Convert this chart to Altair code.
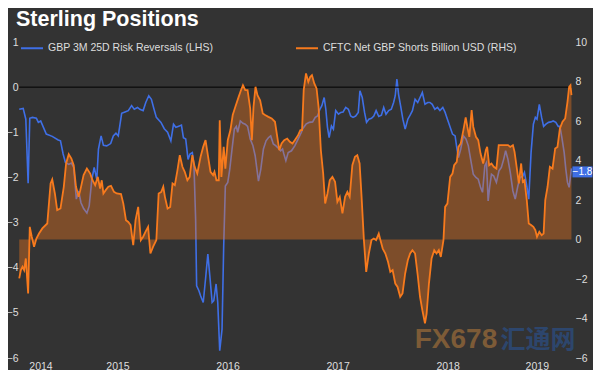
import altair as alt
import pandas as pd

# ---------------- data ----------------
RR_NAME = "GBP 3M 25D Risk Reversals (LHS)"
CFTC_NAME = "CFTC Net GBP Shorts Billion USD (RHS)"

rr_year = [2014.607, 2014.643, 2014.667, 2014.688, 2014.703, 2014.727, 2014.763, 2014.781, 2014.802, 2014.823,
           2014.853, 2014.907, 2014.961, 2014.982, 2015.006, 2015.027, 2015.057, 2015.081, 2015.102, 2015.126,
           2015.147, 2015.168, 2015.192, 2015.222, 2015.243, 2015.267, 2015.288, 2015.312, 2015.327, 2015.351,
           2015.372, 2015.402, 2015.438, 2015.462, 2015.486, 2015.507, 2015.538, 2015.568, 2015.598, 2015.628,
           2015.652, 2015.682, 2015.703, 2015.733, 2015.757, 2015.784, 2015.808, 2015.832, 2015.853, 2015.895,
           2015.925, 2015.955, 2015.985, 2016.009, 2016.030, 2016.051, 2016.081, 2016.099, 2016.120, 2016.141,
           2016.159, 2016.180, 2016.195, 2016.210, 2016.219, 2016.240, 2016.255, 2016.279, 2016.300, 2016.321,
           2016.339, 2016.360, 2016.375, 2016.396, 2016.411, 2016.429, 2016.450, 2016.465, 2016.480, 2016.502,
           2016.520, 2016.541, 2016.562, 2016.580, 2016.592, 2016.616, 2016.640, 2016.661, 2016.682, 2016.706,
           2016.730, 2016.751, 2016.781, 2016.802, 2016.826, 2016.850, 2016.871, 2016.892, 2016.916, 2016.940,
           2016.964, 2016.982, 2017.000, 2017.012, 2017.030, 2017.051, 2017.081, 2017.111, 2017.141, 2017.171,
           2017.183, 2017.213, 2017.243, 2017.273, 2017.297, 2017.318, 2017.339, 2017.357, 2017.378, 2017.393,
           2017.408, 2017.423, 2017.444, 2017.462, 2017.483, 2017.508, 2017.529, 2017.550, 2017.574, 2017.598,
           2017.619, 2017.640, 2017.664, 2017.688, 2017.703, 2017.724, 2017.745, 2017.763, 2017.784, 2017.808,
           2017.829, 2017.850, 2017.874, 2017.898, 2017.919, 2017.940, 2017.964, 2017.988, 2018.009, 2018.024,
           2018.039, 2018.054, 2018.075, 2018.093, 2018.114, 2018.138, 2018.159, 2018.180, 2018.204, 2018.228,
           2018.249, 2018.270, 2018.294, 2018.318, 2018.339, 2018.360, 2018.384, 2018.408, 2018.430, 2018.456,
           2018.477, 2018.498, 2018.523, 2018.544, 2018.568, 2018.583, 2018.598, 2018.619, 2018.643, 2018.667,
           2018.688, 2018.709, 2018.733, 2018.757, 2018.778, 2018.799, 2018.817, 2018.838, 2018.853, 2018.868,
           2018.883, 2018.898, 2018.919, 2018.943, 2018.967, 2018.988, 2019.009, 2019.027, 2019.048, 2019.069,
           2019.093, 2019.114, 2019.138, 2019.159, 2019.183, 2019.198, 2019.219, 2019.237, 2019.258, 2019.279,
           2019.297, 2019.312, 2019.333, 2019.354, 2019.372, 2019.393, 2019.417, 2019.438, 2019.459, 2019.483,
           2019.505, 2019.520, 2019.538, 2019.559, 2019.574, 2019.589, 2019.604, 2019.625]
rr_value = [-0.49, -0.47, -0.71, -2.13, -0.69, -0.67, -0.69, -0.78, -0.75, -0.87,
            -1.04, -1.09, -1.17, -1.19, -1.48, -1.67, -1.71, -1.68, -1.78, -2.48,
            -2.30, -2.56, -2.69, -2.79, -2.63, -2.04, -1.78, -2.04, -1.37, -1.08,
            -1.29, -1.30, -1.25, -1.08, -1.02, -1.08, -0.58, -0.55, -0.52, -0.41,
            -0.49, -0.45, -0.49, -0.52, -0.34, -0.19, -0.27, -0.49, -0.67, -0.78,
            -0.92, -1.00, -1.19, -0.82, -0.89, -0.87, -0.84, -1.12, -1.15, -1.60,
            -1.48, -1.45, -1.74, -2.92, -4.40, -4.51, -4.62, -4.77, -4.25, -3.70,
            -4.18, -4.77, -4.73, -4.36, -4.77, -5.84, -5.36, -3.52, -2.19, -2.11,
            -1.82, -1.37, -0.93, -0.87, -1.00, -0.75, -0.80, -0.82, -0.87, -1.15,
            -1.29, -1.52, -2.08, -1.82, -1.37, -1.19, -1.12, -1.08, -1.26, -1.30,
            -1.36, -1.41, -1.37, -1.48, -1.63, -1.45, -1.41, -1.30, -1.15, -1.00,
            -0.92, -0.82, -0.78, -0.77, -0.67, -0.64, -0.49, -0.41, -0.23, -0.49,
            -0.89, -1.12, -0.86, -0.93, -0.52, -0.60, -0.56, -0.55, -0.45, -0.49,
            -0.64, -0.67, -0.64, -0.56, -0.08, -0.23, -0.56, -0.78, -0.71, -0.69,
            -0.64, -0.52, -0.65, -0.62, -0.45, -0.60, -0.52, -0.49, -0.34, -0.19,
            0.18, -0.16, -0.45, -0.71, -0.93, -0.71, -0.62, -0.52, -0.27, -0.34,
            -0.23, -0.12, -0.38, -0.34, -0.34, -0.38, -0.49, -0.45, -0.52, -0.45,
            -0.56, -0.71, -0.89, -1.04, -1.08, -1.34, -1.56, -1.37, -1.08, -1.15,
            -1.30, -1.60, -1.93, -2.00, -2.04, -2.22, -2.33, -1.74, -1.67, -2.52,
            -2.19, -1.93, -1.97, -2.11, -1.85, -1.78, -1.60, -1.41, -1.60, -1.89,
            -2.30, -2.48, -2.19, -2.00, -1.97, -1.89, -2.19, -2.48, -1.45, -0.82,
            -0.67, -0.71, -0.38, -0.67, -0.87, -0.82, -0.78, -0.77, -0.75, -0.78,
            -0.87, -0.87, -1.12, -1.45, -1.82, -2.11, -2.22, -1.80]

cftc_year = [2014.607, 2014.622, 2014.637, 2014.652, 2014.667, 2014.688, 2014.703, 2014.721, 2014.742, 2014.763,
             2014.787, 2014.817, 2014.862, 2014.892, 2014.907, 2014.931, 2014.952, 2014.982, 2015.012, 2015.033,
             2015.057, 2015.081, 2015.102, 2015.123, 2015.147, 2015.162, 2015.192, 2015.222, 2015.252, 2015.273,
             2015.297, 2015.321, 2015.342, 2015.357, 2015.372, 2015.393, 2015.417, 2015.441, 2015.468, 2015.493,
             2015.532, 2015.553, 2015.577, 2015.598, 2015.619, 2015.643, 2015.664, 2015.688, 2015.712, 2015.733,
             2015.754, 2015.778, 2015.799, 2015.823, 2015.853, 2015.874, 2015.898, 2015.916, 2015.931, 2015.955,
             2015.979, 2016.000, 2016.021, 2016.045, 2016.066, 2016.090, 2016.111, 2016.135, 2016.156, 2016.180,
             2016.201, 2016.225, 2016.255, 2016.279, 2016.300, 2016.321, 2016.345, 2016.369, 2016.381, 2016.399,
             2016.420, 2016.429, 2016.444, 2016.465, 2016.480, 2016.502, 2016.526, 2016.547, 2016.571, 2016.601,
             2016.622, 2016.640, 2016.661, 2016.682, 2016.706, 2016.721, 2016.736, 2016.754, 2016.772, 2016.796,
             2016.820, 2016.841, 2016.871, 2016.901, 2016.931, 2016.952, 2016.970, 2016.991, 2017.015, 2017.042,
             2017.066, 2017.090, 2017.111, 2017.141, 2017.162, 2017.177, 2017.192, 2017.213, 2017.234, 2017.252,
             2017.267, 2017.288, 2017.309, 2017.327, 2017.348, 2017.369, 2017.387, 2017.408, 2017.429, 2017.453,
             2017.477, 2017.498, 2017.520, 2017.544, 2017.568, 2017.589, 2017.610, 2017.634, 2017.658, 2017.679,
             2017.700, 2017.718, 2017.739, 2017.760, 2017.784, 2017.808, 2017.829, 2017.850, 2017.874, 2017.889,
             2017.910, 2017.934, 2017.958, 2017.979, 2018.000, 2018.024, 2018.045, 2018.069, 2018.090, 2018.114,
             2018.138, 2018.159, 2018.180, 2018.204, 2018.228, 2018.249, 2018.270, 2018.294, 2018.309, 2018.330,
             2018.354, 2018.378, 2018.399, 2018.420, 2018.438, 2018.462, 2018.477, 2018.498, 2018.523, 2018.544,
             2018.559, 2018.583, 2018.598, 2018.619, 2018.643, 2018.664, 2018.679, 2018.697, 2018.718, 2018.733,
             2018.757, 2018.778, 2018.799, 2018.823, 2018.847, 2018.859, 2018.877, 2018.898, 2018.919, 2018.943,
             2018.964, 2019.003, 2019.048, 2019.069, 2019.093, 2019.108, 2019.129, 2019.147, 2019.168, 2019.183,
             2019.198, 2019.219, 2019.237, 2019.258, 2019.279, 2019.297, 2019.312, 2019.333, 2019.354, 2019.372,
             2019.387, 2019.408, 2019.429, 2019.453, 2019.477, 2019.498, 2019.520, 2019.544, 2019.568, 2019.589,
             2019.604, 2019.616, 2019.625]
cftc_value = [-1.97, -1.55, -1.38, -1.55, -0.96, -2.73, 0.64, 0.14, -0.37, 0.05,
              0.30, 0.56, 0.81, 2.84, 3.04, 2.33, 1.49, 1.57, 2.67, 3.85,
              4.32, 4.10, 3.76, 2.67, 2.16, 2.50, 3.26, 3.59, 3.34, 3.00,
              2.75, 3.17, 2.58, 3.00, 2.33, 2.50, 2.67, 2.72, 2.41, 2.33,
              2.30, 1.82, 0.98, 0.89, 0.73, -0.29, 0.98, 1.65, -0.03, 0.14,
              0.39, 0.64, -0.71, -0.37, -0.03, 2.33, 2.41, 2.67, 2.16, 1.57,
              1.65, 2.84, 2.75, 3.51, 4.27, 3.68, 3.43, 3.00, 3.17, 4.27,
              3.68, 3.34, 4.19, 4.69, 5.03, 4.27, 3.43, 3.26, 3.43, 3.00,
              3.00, 6.04, 3.17, 4.69, 3.59, 5.03, 5.54, 6.30, 6.72, 7.22,
              7.56, 7.81, 7.56, 7.56, 6.63, 5.03, 6.72, 7.73, 7.31, 7.05,
              6.38, 6.30, 6.21, 6.13, 5.96, 5.20, 4.52, 4.86, 5.03, 5.11,
              4.95, 4.86, 5.03, 5.28, 5.54, 5.54, 7.56, 8.41, 7.98, 8.24,
              8.32, 7.90, 7.65, 6.72, 4.52, 3.34, 1.82, 2.33, 3.00, 3.17,
              2.92, 1.91, 2.16, 1.32, 2.16, 2.41, 2.16, 3.76, 4.19, 4.27,
              3.85, 2.16, -0.03, -1.64, -0.71, -0.03, 0.05, -0.03, 0.30, -0.03,
              -0.46, -0.71, -1.13, -1.64, -1.55, -2.23, -2.40, -2.90, -2.73, -1.72,
              -1.05, -0.71, -0.54, -0.71, -1.81, -2.90, -3.58, -4.25, -3.75, -2.23,
              -0.96, -0.54, -0.71, -0.54, -0.88, -0.03, 1.65, 1.82, 3.17, 3.34,
              3.76, 3.93, 4.69, 4.86, 5.54, 6.18, 5.70, 5.20, 6.55, 5.70,
              5.20, 5.03, 4.35, 3.85, 4.52, 4.69, 3.76, 3.85, 3.68, 3.59,
              4.78, 4.78, 4.78, 4.69, 4.78, 4.44, 3.59, 2.84, 3.85, 2.92,
              3.00, 1.99, 0.81, 0.73, 0.64, 0.47, 0.14, 0.39, 0.22, 0.30,
              1.99, 2.67, 3.68, 3.59, 4.61, 4.69, 5.62, 5.96, 6.13, 6.97,
              7.73, 7.81, 7.31]

# year labels are centred in each year's visible span
year_label_pos = [2014.80, 2015.5, 2016.5, 2017.5, 2018.5, 2019.31]
left_ticks = [-6, -5, -4, -3, -2, -1, 0, 1]
right_ticks = [-6, -4, -2, 0, 2, 4, 6, 8, 10]
zero_line = [0]

# ---------------- styling ----------------
BG = "#333333"
BLUE = "#3f6fe6"
ORANGE = "#f77a1d"
TXT = "#dedede"
FONT = "Arial, Liberation Sans, sans-serif"

rr = pd.DataFrame({"year": rr_year, "value": rr_value, "series": RR_NAME})
cftc = pd.DataFrame({"year": cftc_year, "value": cftc_value, "series": CFTC_NAME})
last = rr.tail(1)
zero_df = pd.DataFrame({"v": zero_line})

x_enc = alt.X("year:Q",
              scale=alt.Scale(domain=[2014.605, 2019.63], nice=False, zero=False),
              axis=alt.Axis(values=year_label_pos, labelExpr="floor(datum.value)",
                            labelPadding=3, labelFlush=False, labelOverlap=False),
              title=None)

color_enc = alt.Color("series:N",
                      scale=alt.Scale(domain=[RR_NAME, CFTC_NAME], range=[BLUE, ORANGE]),
                      legend=alt.Legend(orient="none", legendX=1, legendY=-6, direction="horizontal",
                                        title=None, symbolType="stroke", symbolSize=484,
                                        symbolStrokeWidth=2, labelFontSize=10.5, labelColor=TXT,
                                        labelFont=FONT, labelLimit=300, columnPadding=78,
                                        labelOffset=4, padding=0))

yL = alt.Scale(domain=[-6, 1], nice=False, zero=False)
yR = alt.Scale(domain=[-6, 10], nice=False, zero=False)
left_axis = alt.Axis(orient="left", values=left_ticks, labelPadding=1)
right_axis = alt.Axis(orient="right", values=right_ticks, labelPadding=3)

blue_line = alt.Chart(rr).mark_line(strokeWidth=1.6).encode(
    x=x_enc,
    y=alt.Y("value:Q", scale=yL, title=None, axis=left_axis),
    color=color_enc,
)
zero_rule = alt.Chart(zero_df).mark_rule(color="#000000", strokeWidth=1).encode(
    y=alt.Y("v:Q", scale=yL, title=None, axis=left_axis)
)
box_path = "M-1,-0.55L1,-0.55L1,0.55L-1,0.55Z"
last_box = alt.Chart(last).mark_point(shape=box_path, filled=True, color=BLUE, size=400,
                                      opacity=1, xOffset=11, yOffset=3.5).encode(
    x=x_enc, y=alt.Y("value:Q", scale=yL, title=None, axis=left_axis)
)
last_txt = alt.Chart(last).transform_calculate(
    lab="format(datum.value, '.1f')"
).mark_text(color="white", fontSize=10, font=FONT, align="center", baseline="middle",
            xOffset=11, yOffset=4).encode(
    x=x_enc, y=alt.Y("value:Q", scale=yL, title=None, axis=left_axis), text="lab:N"
)

area = alt.Chart(cftc).mark_area(color=ORANGE, opacity=0.38).encode(
    x=x_enc,
    y=alt.Y("value:Q", scale=yR, title=None, axis=right_axis),
)
orange_line = alt.Chart(cftc).mark_line(strokeWidth=1.8).encode(
    x=x_enc,
    y=alt.Y("value:Q", scale=yR, title=None, axis=right_axis),
    color=color_enc,
)

wm1 = alt.Chart(zero_df).mark_text(text="FX678", font="Liberation Sans Narrow, Arial Narrow, sans-serif",
                                   fontWeight="bold", fontSize=28, color="#8a6238", opacity=0.85,
                                   align="center", baseline="middle").encode(
    x=alt.value(437), y=alt.value(298))
wm2 = alt.Chart(zero_df).mark_text(text="汇通网", font="Noto Sans CJK SC", fontWeight="bold",
                                   fontSize=25, color="#2c4a78", opacity=0.85,
                                   align="center", baseline="middle").encode(
    x=alt.value(519), y=alt.value(298))

blue_group = alt.layer(blue_line, zero_rule, last_box, last_txt)
orange_group = alt.layer(area, orange_line)

chart = alt.layer(blue_group, orange_group, wm1, wm2).resolve_scale(y="independent").properties(
    width=553, height=316,
    autosize=alt.AutoSizeParams(type="none"),
    padding={"left": 11, "top": 34, "right": 21, "bottom": 12},
    background=BG,
    title=alt.TitleParams("Sterling Positions", anchor="start", frame="group", fontSize=21.5,
                          fontWeight="bold", color="white", font=FONT, dx=-3, offset=6),
).configure_view(stroke=None).configure_axis(
    grid=False, domain=False, ticks=False, labelColor=TXT, labelFont=FONT, labelFontSize=10.5
)

chart.save("out.html", embed_options={"renderer": "svg", "actions": False})
